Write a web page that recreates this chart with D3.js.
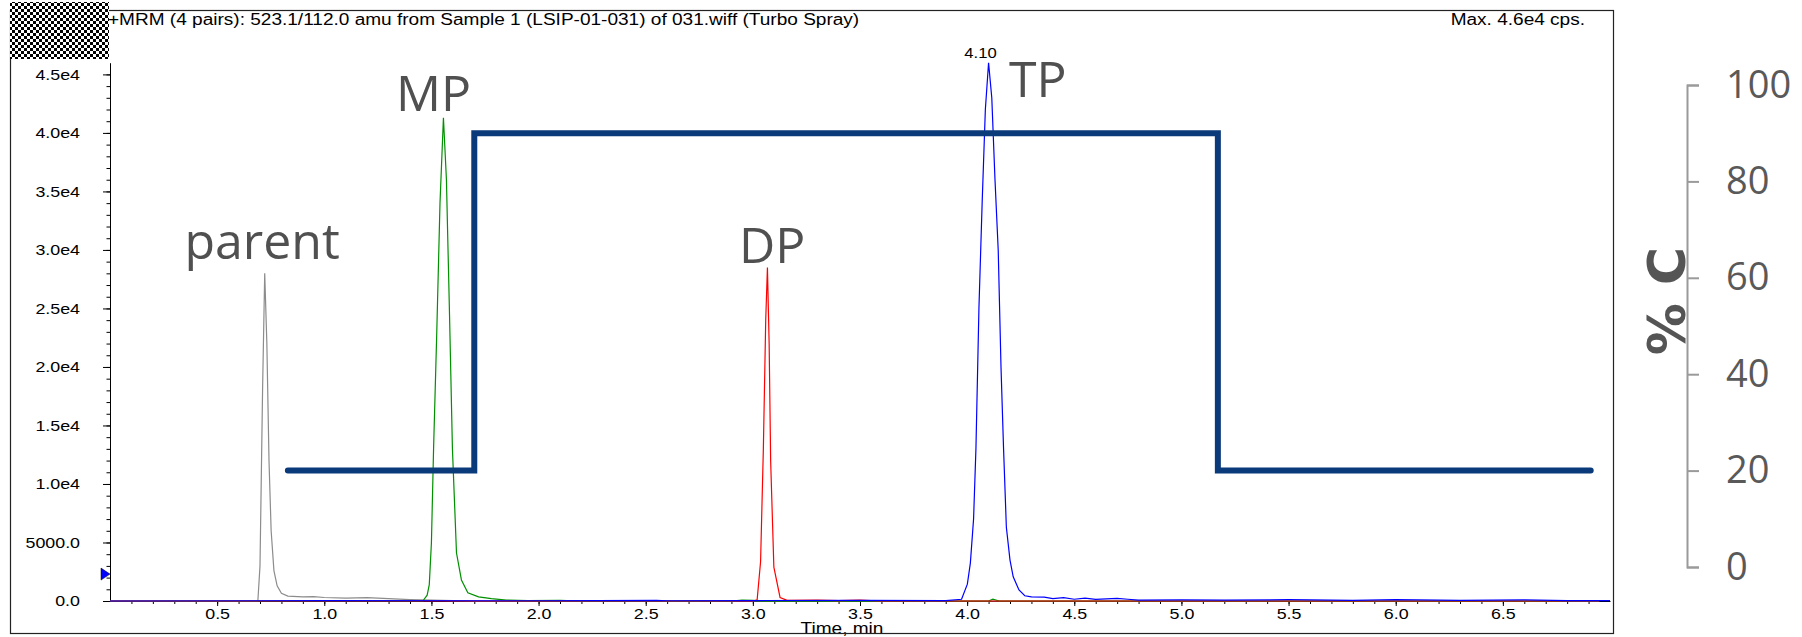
<!DOCTYPE html>
<html>
<head>
<meta charset="utf-8">
<script src="https://cdn.jsdelivr.net/npm/d3@7"></script>
<style>
  body { margin: 0; background: #fff; }
  svg { display: block; }
</style>
</head>
<body>
<svg id="chart"></svg>
<script>
// traces: [time in min, intensity in cps]
const parentTrace = [
  [0, 0], [0.5, 0], [0.69, 0], [0.70, 3000], [0.712, 18000], [0.722, 28000],
  [0.732, 22000], [0.742, 12000], [0.752, 6000], [0.765, 2600], [0.78, 1300],
  [0.80, 650], [0.83, 420], [0.9, 350], [0.95, 380], [1.0, 300], [1.1, 250],
  [1.2, 280], [1.3, 200], [1.4, 120], [1.5, 80], [1.6, 30], [1.7, 0], [6.95, 0]
];
const mpTrace = [
  [0, 0], [1.46, 0], [1.48, 500], [1.49, 1400], [1.50, 5000], [1.51, 13000],
  [1.525, 23000], [1.54, 34000], [1.556, 41300], [1.57, 36000], [1.585, 24000],
  [1.598, 13000], [1.617, 4100], [1.64, 1800], [1.67, 700], [1.72, 350],
  [1.78, 200], [1.85, 80], [1.95, 40], [2.1, 60], [2.2, 0], [2.9, 0],
  [2.95, 80], [3.0, 60], [3.05, 0], [4.1, 0], [4.12, 150], [4.15, 0], [6.95, 0]
];
const dpTrace = [
  [0, 0], [3.0, 0], [3.02, 100], [3.036, 3350], [3.049, 13000], [3.06, 24000],
  [3.068, 28500], [3.076, 22000], [3.083, 12000], [3.098, 2900], [3.127, 300],
  [3.16, 60], [3.3, 80], [3.4, 40], [3.5, 80], [3.6, 0], [6.95, 0]
];
const tpTrace = [
  [0, 0], [1.0, 30], [2.0, 20], [2.55, 60], [2.6, 20], [3.0, 40], [3.5, 60],
  [3.9, 40], [3.974, 150], [4.001, 1440], [4.015, 3240], [4.03, 7000],
  [4.041, 13000], [4.055, 25000], [4.07, 34000], [4.085, 42000], [4.10, 46000],
  [4.115, 43000], [4.13, 36000], [4.145, 30000], [4.158, 20000], [4.17, 13000],
  [4.183, 6300], [4.20, 3500], [4.215, 2070], [4.242, 940], [4.269, 450],
  [4.30, 350], [4.36, 330], [4.40, 200], [4.45, 280], [4.5, 150], [4.55, 250],
  [4.6, 140], [4.7, 220], [4.75, 150], [4.8, 80], [5.0, 90], [5.2, 70],
  [5.5, 110], [5.8, 60], [6.0, 120], [6.3, 50], [6.6, 100], [6.8, 40], [7.0, 40]
];

// gradient program, % C against time
const gradient = [
  [0.83, 20], [1.70, 20], [1.70, 90], [5.17, 90], [5.17, 20], [6.91, 20]
];

const yTicks = [0, 5000, 10000, 15000, 20000, 25000, 30000, 35000, 40000, 45000];
const yTickLabels = ["0.0", "5000.0", "1.0e4", "1.5e4", "2.0e4", "2.5e4",
  "3.0e4", "3.5e4", "4.0e4", "4.5e4"];
const xTicks = [0.5, 1.0, 1.5, 2.0, 2.5, 3.0, 3.5, 4.0, 4.5, 5.0, 5.5, 6.0, 6.5];
const pctTicks = [0, 20, 40, 60, 80, 100];

const peakNames = ["parent", "MP", "DP", "TP"];
const peakLabelAt = [[0.71, 29200], [1.51, 41900], [3.09, 28900], [4.33, 43100]];
const apexLabel = { text: "4.10", t: 4.10, v: 46000 };
const markerLevel = 2300;

const W = 1802, H = 637;
const stretch = 1.19; // the instrument screenshot is wider than it is tall

const svg = d3.select("#chart").attr("width", W).attr("height", H);

const x = d3.scaleLinear().domain([0, 7.0]).range([110, 1610]);
const y = d3.scaleLinear().domain([0, 46000]).range([601, 62.7]);
const pct = d3.scaleLinear().domain([0, 100]).range([567, 85]);

// checkered corner
const defs = svg.append("defs");
const pat = defs.append("pattern").attr("id", "chk")
  .attr("patternUnits", "userSpaceOnUse").attr("width", 6).attr("height", 6);
pat.append("rect").attr("width", 6).attr("height", 6).attr("fill", "#fff");
pat.append("rect").attr("width", 3).attr("height", 3).attr("fill", "#000");
pat.append("rect").attr("x", 3).attr("y", 3).attr("width", 3).attr("height", 3).attr("fill", "#000");

const font = "'Liberation Sans', Arial, sans-serif";

function stretchedText(tx, ty, str, size, anchor) {
  return svg.append("text")
    .attr("transform", `translate(${tx},${ty}) scale(${stretch},1)`)
    .attr("text-anchor", anchor || "start")
    .style("font-family", font)
    .style("font-size", size + "px")
    .attr("fill", "#000")
    .text(str);
}

// x axis: minor then major ticks
const xMinor = d3.range(1, 70).map(d => d / 10);
svg.append("g")
  .attr("transform", `translate(0,${y(0)})`)
  .call(d3.axisBottom(x).tickValues(xMinor).tickSize(3).tickSizeOuter(0).tickFormat(""))
  .call(g => g.select(".domain").attr("stroke", "#000"));
const xAxis = svg.append("g")
  .attr("transform", `translate(0,${y(0)})`)
  .call(d3.axisBottom(x).tickValues(xTicks).tickSize(5).tickPadding(2)
    .tickFormat(d3.format(".1f")));
xAxis.select(".domain").remove();
xAxis.selectAll("text")
  .attr("transform", `scale(${stretch},1)`)
  .style("font-family", font).style("font-size", "15px").attr("fill", "#000");

// y axis
const yMinor = d3.range(1000, 46000, 1000);
svg.append("g")
  .attr("transform", `translate(${x(0)},0)`)
  .call(d3.axisLeft(y).tickValues(yMinor).tickSize(3.5).tickSizeOuter(0).tickFormat(""))
  .call(g => g.select(".domain").attr("stroke", "#000"));
const yAxis = svg.append("g")
  .attr("transform", `translate(${x(0)},0)`)
  .call(d3.axisLeft(y).tickValues(yTicks).tickSize(7)
    .tickFormat((d, i) => yTickLabels[i]));
yAxis.select(".domain").remove();
yAxis.selectAll("text")
  .attr("x", -30 / stretch)
  .attr("transform", `scale(${stretch},1)`)
  .style("font-family", font).style("font-size", "15px").attr("fill", "#000");

// traces
const line = d3.line().x(d => x(d[0])).y(d => y(d[1]));
[[parentTrace, "#8c8c8c"], [mpTrace, "#009000"], [dpTrace, "#ff0000"], [tpTrace, "#0000ff"]]
  .forEach(([trace, col]) => {
    svg.append("path")
      .datum(trace)
      .attr("fill", "none")
      .attr("stroke", col)
      .attr("stroke-width", 1.2)
      .attr("d", line);
  });

// blue level marker on the y axis
const my = y(markerLevel);
svg.append("path")
  .attr("d", `M${x(0) - 9},${my - 6}L${x(0)},${my}L${x(0) - 9},${my + 6}Z`)
  .attr("fill", "#0000ff").attr("stroke", "#000").attr("stroke-width", 0.5);

// apex time label
stretchedText(x(apexLabel.t) - 8, y(apexLabel.v) - 5, apexLabel.text, 14, "middle");

// x axis title, clipped by the frame
stretchedText(842, 634, "Time, min", 16, "middle");

// header texts
stretchedText(108, 25, "+MRM (4 pairs): 523.1/112.0 amu from Sample 1 (LSIP-01-031) of 031.wiff (Turbo Spray)", 16, "start");
stretchedText(1585, 25, "Max. 4.6e4 cps.", 16, "end");

// frame and corner
svg.append("rect")
  .attr("x", 10.5).attr("y", 10.5).attr("width", 1603).attr("height", 623)
  .attr("fill", "none").attr("stroke", "#222").attr("stroke-width", 1.2);
svg.append("rect")
  .attr("x", 10).attr("y", 2).attr("width", 99).attr("height", 57)
  .attr("fill", "url(#chk)");

// gradient step line on the % C scale
const gline = d3.line().x(d => x(d[0])).y(d => pct(d[1]));
svg.append("path")
  .datum(gradient)
  .attr("fill", "none")
  .attr("stroke", "#0b3a7a")
  .attr("stroke-width", 6)
  .attr("stroke-linecap", "round")
  .attr("d", gline);

// peak names
peakNames.forEach((name, i) => {
  svg.append("text")
    .attr("x", x(peakLabelAt[i][0]))
    .attr("y", y(peakLabelAt[i][1]))
    .attr("text-anchor", "middle")
    .style("font-family", "'Open Sans', sans-serif")
    .style("font-size", "50px")
    .attr("fill", "#505050")
    .text(name);
});

// % C axis on the right
const pAxis = svg.append("g")
  .attr("transform", "translate(1687,0)")
  .call(d3.axisRight(pct).tickValues(pctTicks).tickSize(12).tickPadding(27));
pAxis.selectAll("line, path").attr("stroke", "#9a9a9a").attr("stroke-width", 2);
pAxis.selectAll("text")
  .style("font-family", "'Open Sans', sans-serif")
  .style("font-size", "38px")
  .attr("fill", "#595959");

svg.append("text")
  .attr("transform", "translate(1685,301) rotate(-90)")
  .attr("text-anchor", "middle")
  .style("font-family", "'DejaVu Sans', sans-serif")
  .style("font-weight", "bold")
  .style("font-size", "52px")
  .attr("fill", "#555")
  .text("% C");
</script>
</body>
</html>
